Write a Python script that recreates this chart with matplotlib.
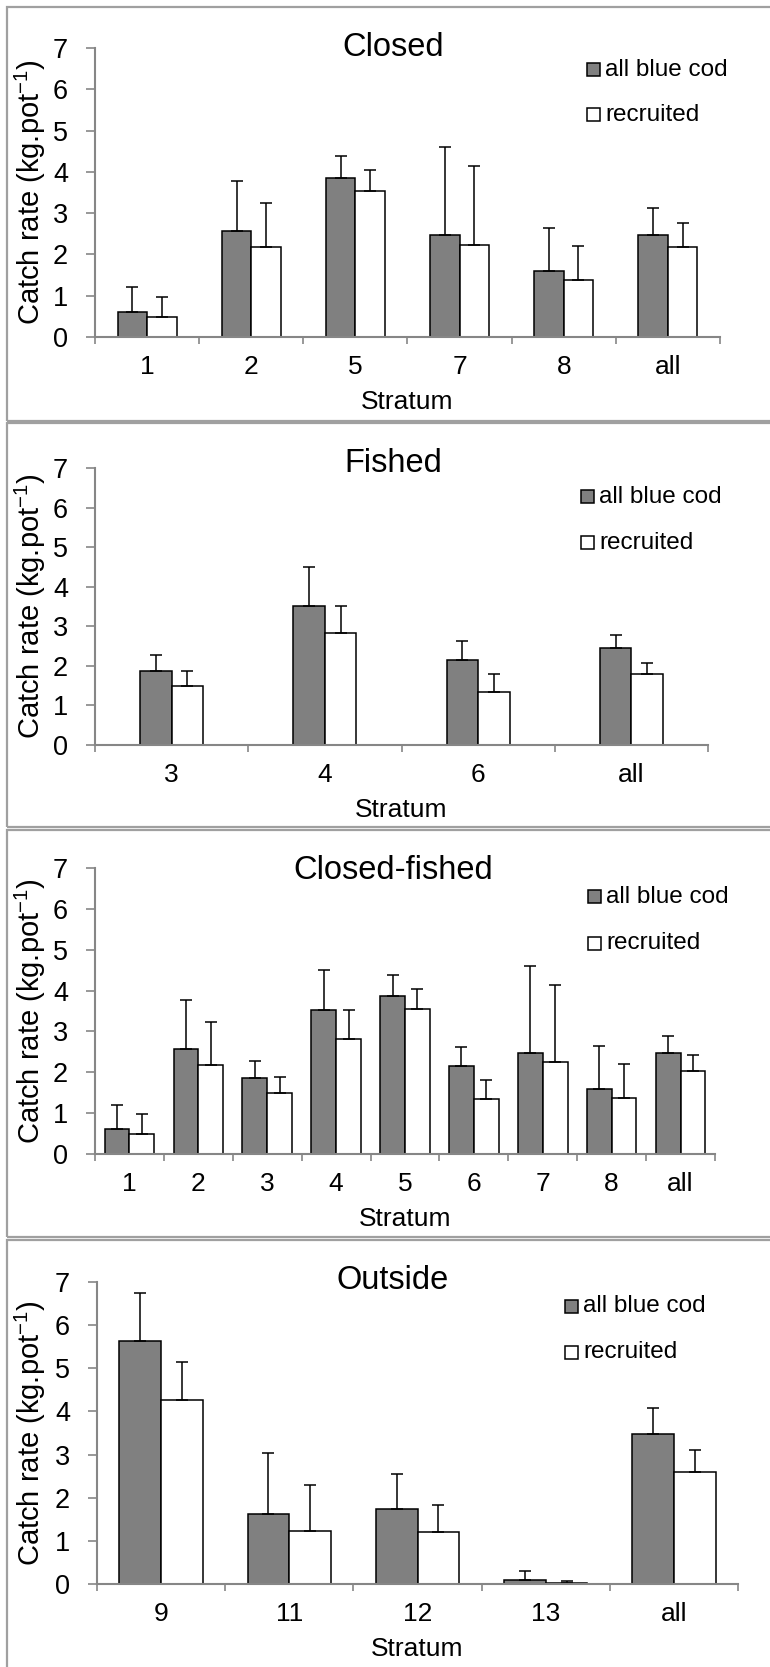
import matplotlib
matplotlib.use("Agg")
import matplotlib.pyplot as plt
import matplotlib.patches as patches
import numpy as np

plt.rcParams['font.family'] = ['Liberation Sans', 'DejaVu Sans']
plt.rcParams['mathtext.fontset'] = 'custom'
plt.rcParams['mathtext.rm'] = 'Liberation Sans'
plt.rcParams['mathtext.default'] = 'regular'

W, H = 770, 1667

# Catch rates per stratum (mean, upper error) for each area
closed_strata = ['1', '2', '5', '7', '8', 'all']
closed_all = [0.60, 2.57, 3.86, 2.48, 1.60, 2.48]
closed_all_err = [0.61, 1.21, 0.52, 2.12, 1.05, 0.65]
closed_rec = [0.48, 2.18, 3.54, 2.24, 1.37, 2.18]
closed_rec_err = [0.49, 1.06, 0.50, 1.90, 0.83, 0.58]

fished_strata = ['3', '4', '6', 'all']
fished_all = [1.87, 3.52, 2.16, 2.44]
fished_all_err = [0.41, 0.99, 0.47, 0.33]
fished_rec = [1.49, 2.82, 1.35, 1.79]
fished_rec_err = [0.39, 0.70, 0.45, 0.29]

cf_strata = ['1', '2', '3', '4', '5', '6', '7', '8', 'all']
cf_all = [0.60, 2.57, 1.87, 3.52, 3.86, 2.16, 2.48, 1.60, 2.46]
cf_all_err = [0.61, 1.21, 0.41, 0.99, 0.52, 0.47, 2.12, 1.05, 0.44]
cf_rec = [0.48, 2.18, 1.49, 2.82, 3.54, 1.35, 2.24, 1.37, 2.04]
cf_rec_err = [0.49, 1.06, 0.39, 0.70, 0.50, 0.45, 1.90, 0.83, 0.38]

outside_strata = ['9', '11', '12', '13', 'all']
outside_all = [5.64, 1.62, 1.73, 0.10, 3.48]
outside_all_err = [1.10, 1.42, 0.82, 0.19, 0.60]
outside_rec = [4.27, 1.23, 1.21, 0.03, 2.60]
outside_rec_err = [0.87, 1.07, 0.63, 0.03, 0.50]

series_labels = ['all blue cod', 'recruited']

DARK = '#808080'
AXIS = '#868686'
BORDER = '#a0a0a0'


def fx(x):
    return x / W


def fy(y):
    return 1 - y / H


def draw_legend(fig, x0, rows):
    # square swatches with the label to the right, no frame
    for (fill, label), y in zip([(DARK, series_labels[0]), ('white', series_labels[1])], rows):
        fig.add_artist(patches.Rectangle((fx(x0), fy(y + 6.5)), 13 / W, 13 / H,
                                         transform=fig.transFigure, facecolor=fill,
                                         edgecolor='black', linewidth=1.1))
        fig.text(fx(x0 + 18), fy(y), label, fontsize=17.5, va='center', ha='left')


def draw_panel(fig, box, plot_area, title_y, title, strata, m1, e1, m2, e2, bar_w, legend_x, legend_rows):
    # outer frame of the panel
    bx0, by0, by1 = box
    fig.add_artist(patches.Rectangle((fx(bx0), fy(by1)), 1.05, fy(by0) - fy(by1),
                                     transform=fig.transFigure, fill=False,
                                     edgecolor=BORDER, linewidth=1.6, clip_on=False))

    left, right, top, bottom = plot_area
    ax = fig.add_axes([fx(left), fy(bottom), fx(right - left), (bottom - top) / H])
    n = len(strata)
    x = np.arange(n)

    zeros = np.zeros(n)
    ax.bar(x - bar_w / 2, m1, bar_w, color=DARK, edgecolor='black', linewidth=1.1, zorder=2)
    ax.bar(x + bar_w / 2, m2, bar_w, color='white', edgecolor='black', linewidth=1.1, zorder=2)
    ax.errorbar(x - bar_w / 2, m1, yerr=[zeros, e1], fmt='none', ecolor='black',
                elinewidth=1.1, capsize=4.5, capthick=1.1, zorder=3)
    ax.errorbar(x + bar_w / 2, m2, yerr=[zeros, e2], fmt='none', ecolor='black',
                elinewidth=1.1, capsize=4.5, capthick=1.1, zorder=3)

    ax.set_xlim(-0.5, n - 0.5)
    ax.set_ylim(0, 7)
    for s in ['top', 'right']:
        ax.spines[s].set_visible(False)
    for s in ['left', 'bottom']:
        ax.spines[s].set_color(AXIS)
        ax.spines[s].set_linewidth(1.5)
        ax.spines[s].set_zorder(4)

    ax.set_yticks(range(8))
    ax.tick_params(axis='y', direction='out', length=6.5, width=1.2, color=AXIS,
                   labelsize=19.5, pad=13)
    # ticks between categories, labels centred on categories
    ax.set_xticks(np.arange(n + 1) - 0.5)
    ax.set_xticklabels([])
    ax.set_xticks(x, minor=True)
    ax.set_xticklabels(strata, minor=True)
    ax.tick_params(axis='x', which='major', direction='out', length=5, width=1.2, color=AXIS)
    ax.tick_params(axis='x', which='minor', length=0, labelsize=19, pad=13)

    ax.set_xlabel('Stratum', fontsize=19, labelpad=8)
    ax.set_ylabel('Catch rate (kg.pot$^{-1}$)', fontsize=21)
    ax.yaxis.set_label_coords((48 - left) / (right - left), 0.5)

    fig.text(fx(393), fy(title_y), title, fontsize=23.5, ha='center', va='center')
    draw_legend(fig, legend_x, legend_rows)
    return ax


fig = plt.figure(figsize=(W / 100, H / 100), dpi=100)

draw_panel(fig, (7, 7, 421), (95, 720, 48, 337), 47, 'Closed', closed_strata,
           closed_all, closed_all_err, closed_rec, closed_rec_err, 0.283, 587, (70, 115))
draw_panel(fig, (7, 423, 827), (95, 708, 468, 745), 463, 'Fished', fished_strata,
           fished_all, fished_all_err, fished_rec, fished_rec_err, 0.205, 581, (497, 543))
draw_panel(fig, (7, 830, 1237), (95, 715, 868, 1154), 870, 'Closed-fished', cf_strata,
           cf_all, cf_all_err, cf_rec, cf_rec_err, 0.36, 588, (897, 943))
draw_panel(fig, (7, 1240, 1700), (97, 738, 1282, 1584), 1280, 'Outside', outside_strata,
           outside_all, outside_all_err, outside_rec, outside_rec_err, 0.325, 565, (1306, 1352))

fig.savefig('out.png', dpi=100)
